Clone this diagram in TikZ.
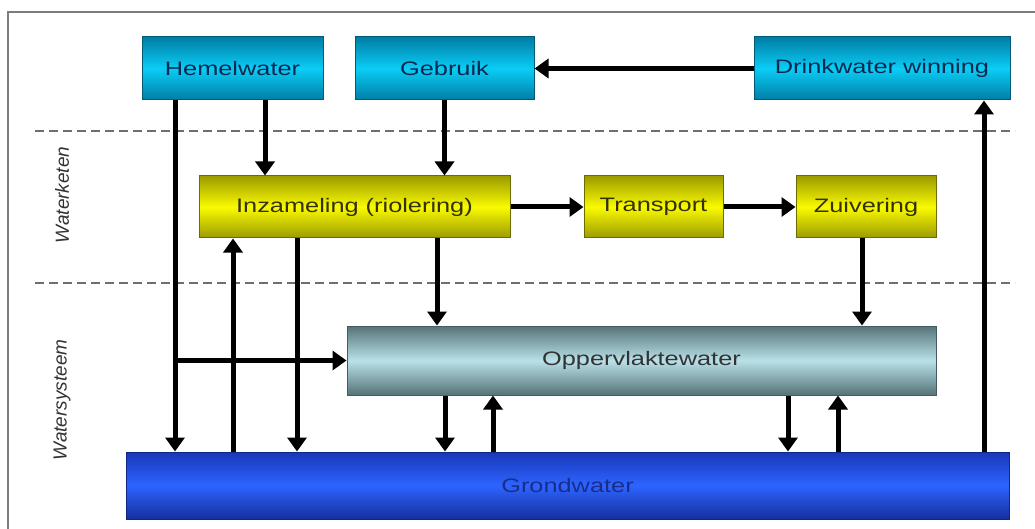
\documentclass[tikz,border=0pt]{standalone}
\usepackage{fontspec}
\setmainfont{Liberation Sans}
\newfontfamily\boxfont[FakeStretch=1.3]{Liberation Sans}
\usepackage{xcolor}
\usetikzlibrary{arrows.meta, positioning}

\definecolor{ketenrand}{RGB}{0,90,120}
\definecolor{ketentop}{RGB}{0,125,165}
\definecolor{ketenmid}{RGB}{10,205,245}
\definecolor{ketentekst}{RGB}{10,40,80}
\definecolor{geeltop}{RGB}{155,155,0}
\definecolor{geelmid}{RGB}{250,250,0}
\definecolor{geeltekst}{RGB}{50,50,5}
\definecolor{oppertop}{RGB}{85,115,120}
\definecolor{oppermid}{RGB}{185,225,232}
\definecolor{grondtop}{RGB}{25,55,185}
\definecolor{grondmid}{RGB}{45,100,255}
\definecolor{grondtekst}{RGB}{25,45,140}
\definecolor{lijngrijs}{RGB}{110,110,110}

\begin{document}
\begin{tikzpicture}[x=1pt, y=-1pt,
    blok/.style={draw=#1, line width=1pt, inner sep=0pt,
        font={\boxfont\fontsize{19.5}{21}\selectfont}},
    bovenblok/.style={blok=ketenrand, top color=ketentop, bottom color=ketentop,
        middle color=ketenmid, text=ketentekst, minimum height=63pt},
    geelblok/.style={blok=geeltop!70!black, top color=geeltop, bottom color=geeltop,
        middle color=geelmid, text=geeltekst, minimum height=62pt},
    pijl/.style={line width=5pt, -{Triangle[width=19pt,length=14pt]}},
    scheiding/.style={lijngrijs, line width=2pt, dash pattern=on 9pt off 5pt},
    laag/.style={rotate=90, text=black!80, font={\fontsize{19}{21}\selectfont\itshape}}]

\useasboundingbox (0,0) rectangle (1035,529);
\draw[lijngrijs!90, line width=2pt] (8,535) -- (8,12) -- (1040,12);

% scheidingslijnen en lagen
\draw[scheiding] (35,131) -- (1015,131);
\draw[scheiding] (35,283) -- (1015,283);
\node[laag] (keten) at (62,195) {Waterketen};
\node[laag] (systeem) at (62,400) {Watersysteem};

% blokken
\node[bovenblok, minimum width=181pt] (hemel) at (232.5,68.5) {Hemelwater};
\node[bovenblok, minimum width=179pt] (gebruik) at (444.5,68.5) {Gebruik};
\node[bovenblok, minimum width=256pt] (drink) at (882,68.5) {Drinkwater winning};

\node[geelblok, minimum width=311pt] (inzam) at (354.5,207) {Inzameling (riolering)};
\node[geelblok, minimum width=139pt] (transport) at (653.5,207) {Transport};
\node[geelblok, minimum width=140pt] (zuiv) at (866,207) {Zuivering};

\node[blok=oppertop!80!black, top color=oppertop, bottom color=oppertop,
    middle color=oppermid, text=black!80, minimum width=589pt, minimum height=69pt]
    (opper) at (641.5,360.5) {Oppervlaktewater};
\node[blok=grondtop!70!black, top color=grondtop, bottom color=grondtop!85!black,
    middle color=grondmid, text=grondtekst, minimum width=883pt, minimum height=67pt]
    (grond) at (567.5,485.5) {Grondwater};

% waterketen
\draw[pijl] (drink.west) -- (gebruik.east);
\draw[pijl] (265,0 |- hemel.south) -- (265,0 |- inzam.north);
\draw[pijl] (gebruik.south) -- (gebruik.south |- inzam.north);
\draw[pijl] (inzam.east) -- (transport.west);
\draw[pijl] (transport.east) -- (zuiv.west);

% hemelwater naar grond- en oppervlaktewater
\draw[pijl] (175,0 |- hemel.south) -- (175,0 |- grond.north);
\draw[pijl] (175,0 |- opper.west) -- (opper.west);

% uitwisseling met het watersysteem
\draw[pijl] (233,0 |- grond.north) -- (233,0 |- inzam.south);
\draw[pijl] (297,0 |- inzam.south) -- (297,0 |- grond.north);
\draw[pijl] (437,0 |- inzam.south) -- (437,0 |- opper.north);
\draw[pijl] (862,0 |- zuiv.south) -- (862,0 |- opper.north);
\draw[pijl] (984,0 |- grond.north) -- (984,0 |- drink.south);

\draw[pijl] (445,0 |- opper.south) -- (445,0 |- grond.north);
\draw[pijl] (493,0 |- grond.north) -- (493,0 |- opper.south);
\draw[pijl] (788,0 |- opper.south) -- (788,0 |- grond.north);
\draw[pijl] (838,0 |- grond.north) -- (838,0 |- opper.south);
\end{tikzpicture}
\end{document}
